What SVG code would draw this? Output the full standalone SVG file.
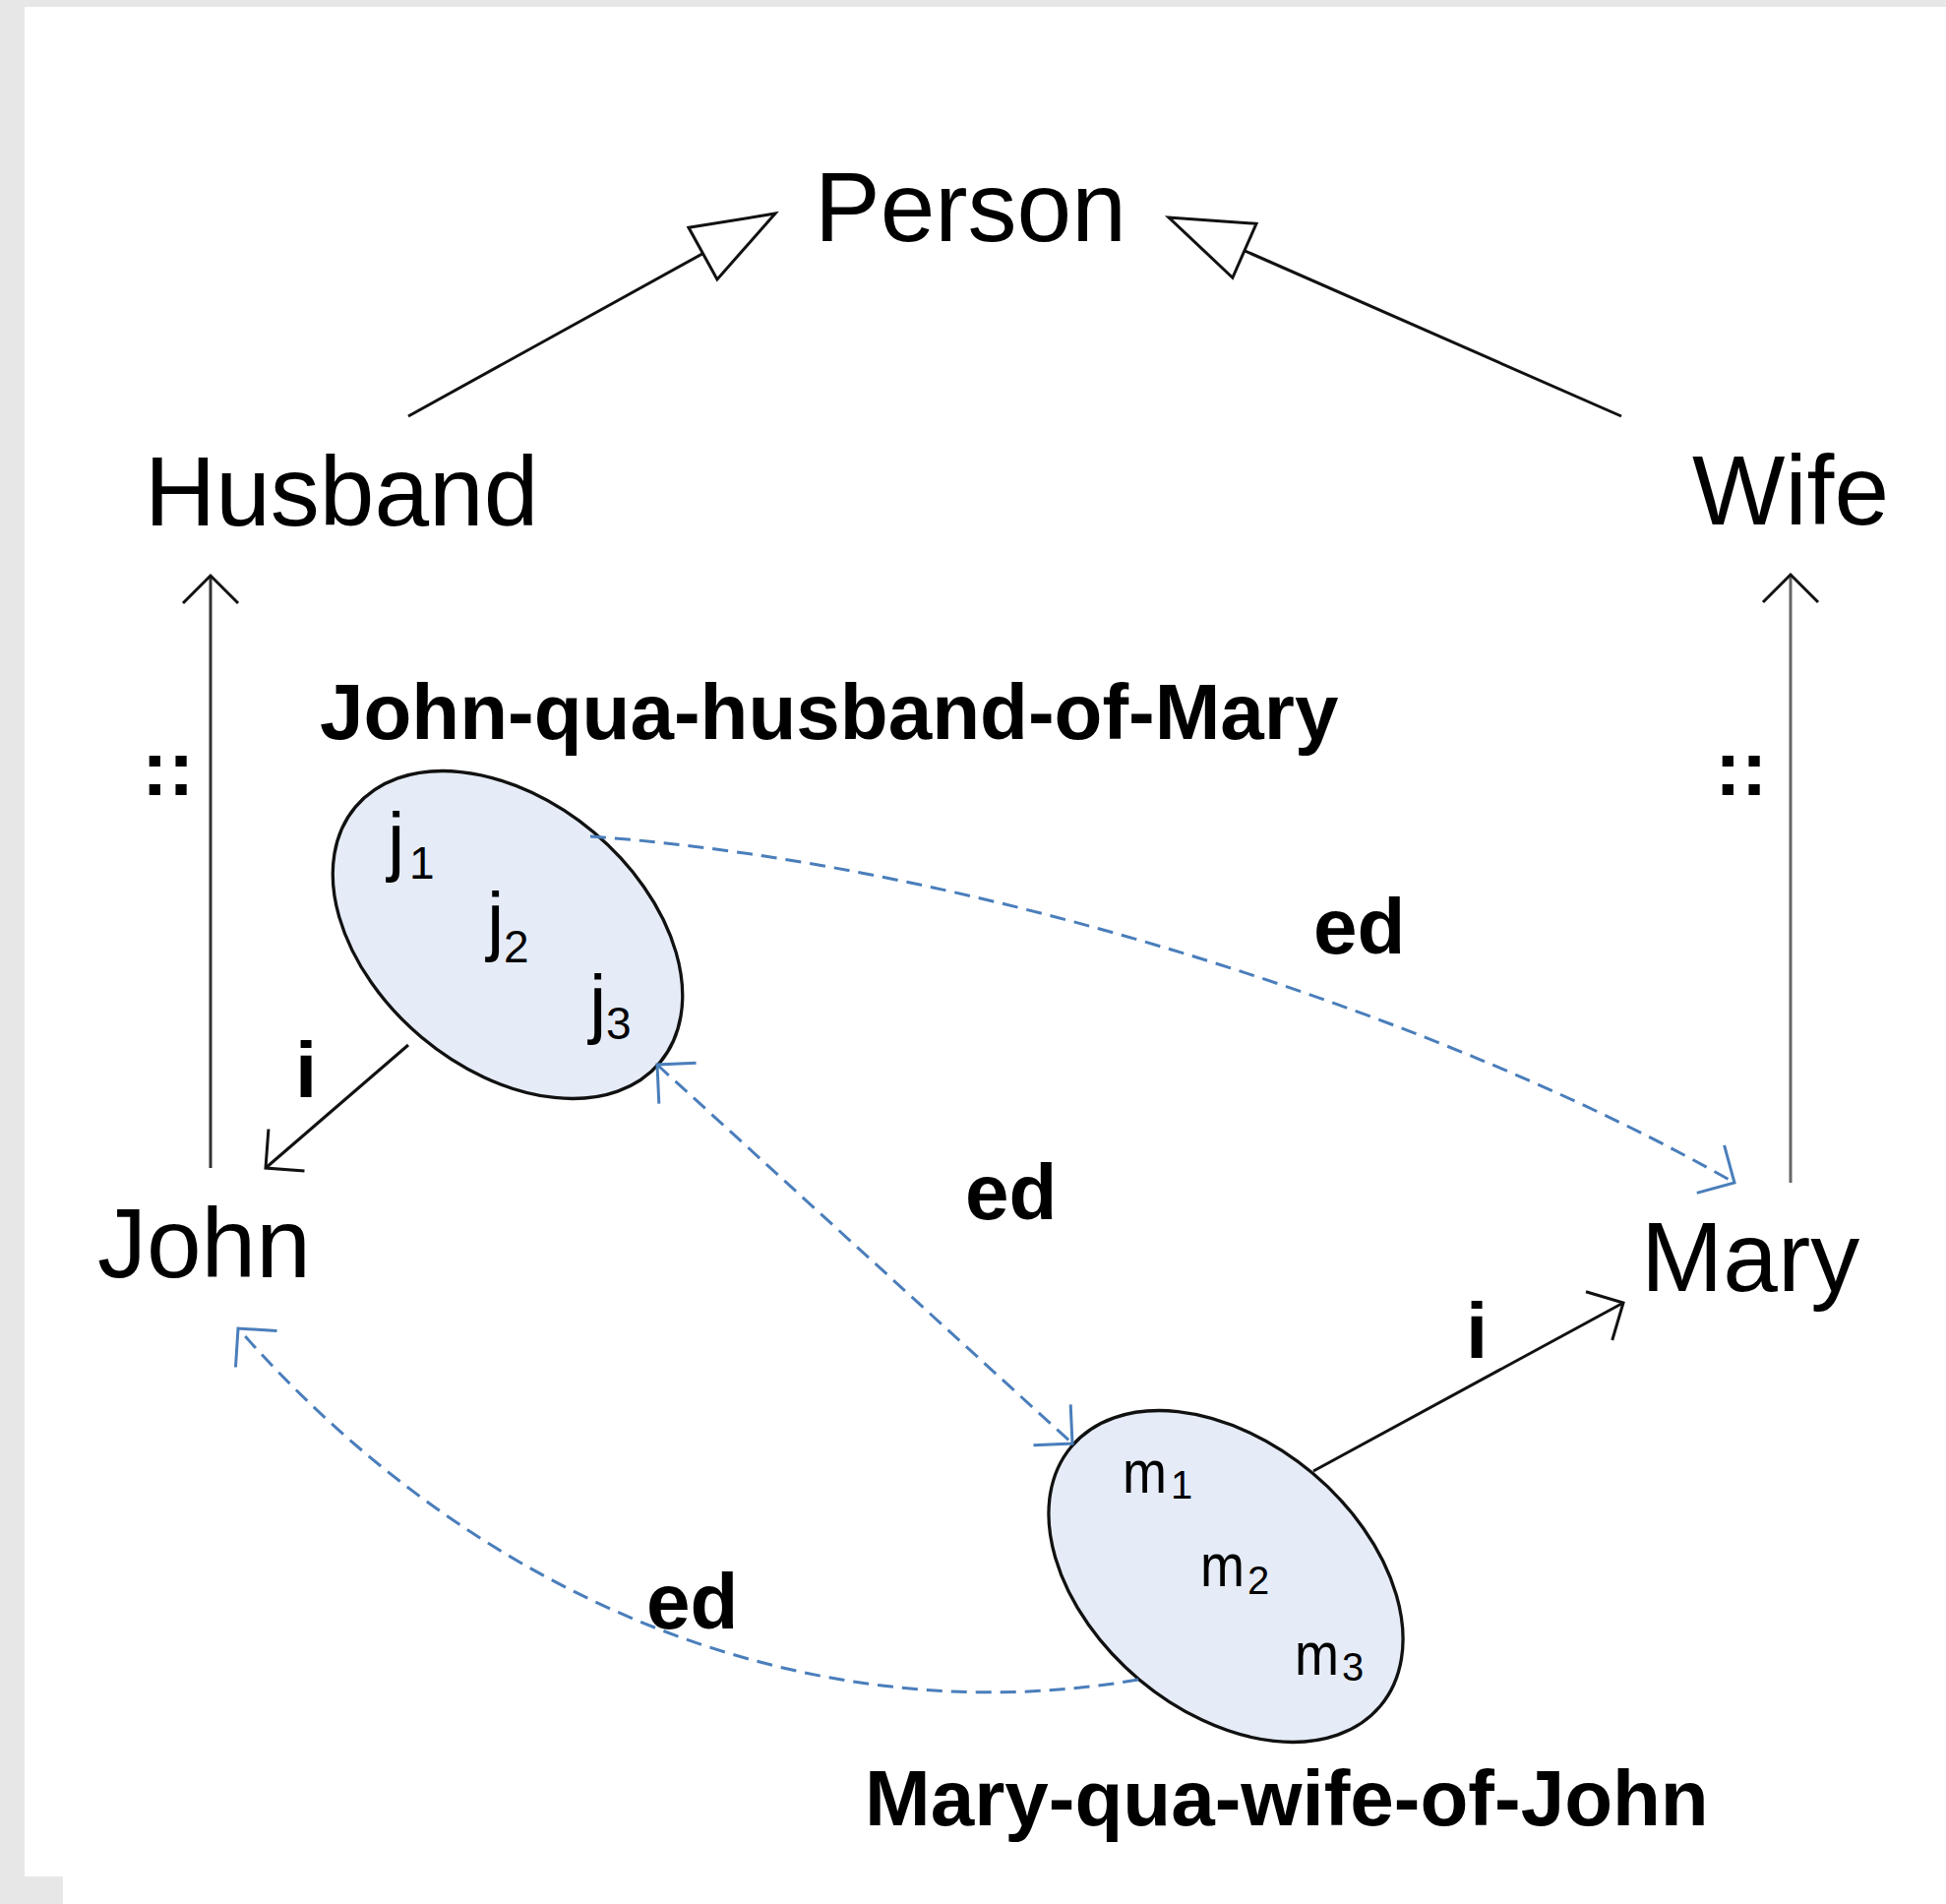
<svg xmlns="http://www.w3.org/2000/svg" width="1978" height="1935" viewBox="0 0 1978 1935">
  <style>
    .lbl { font-family: "Liberation Sans", Arial, Helvetica, sans-serif; fill: #000; }
    .big { font-size: 100px; }
    .bold { font-size: 80px; font-weight: bold; }
    .jm { font-size: 78px; }
    .mm { font-size: 62px; }
    .sub { font-size: 46px; }
    .msub { font-size: 40px; }
    .set { fill: #e5ecf7; stroke: #111; stroke-width: 3.3; }
    .solid { fill: none; stroke: #111; stroke-width: 3; }
    .dash { fill: none; stroke: #4a7ebb; stroke-width: 3; stroke-dasharray: 16 9; }
  </style>
  <defs>
    <marker id="tri" markerUnits="userSpaceOnUse" viewBox="-6 -36 96 72" markerWidth="96" markerHeight="72" refX="84" refY="0" orient="auto">
      <path d="M0,-30 L84,0 L0,30 Z" fill="#fff" stroke="#111" stroke-width="3" stroke-linejoin="miter"/>
    </marker>
    <marker id="open" markerUnits="userSpaceOnUse" viewBox="-34 -34 40 68" markerWidth="40" markerHeight="68" refX="0" refY="0" orient="auto">
      <path d="M-28,-28 L0,0 L-28,28" fill="none" stroke="#111" stroke-width="3"/>
    </marker>
    <marker id="openBlue" markerUnits="userSpaceOnUse" viewBox="-34 -34 40 68" markerWidth="40" markerHeight="68" refX="0" refY="0" orient="auto-start-reverse">
      <path d="M-28,-28 L0,0 L-28,28" fill="none" stroke="#4a7ebb" stroke-width="3"/>
    </marker>
  </defs>

  <rect x="0" y="0" width="1978" height="1935" fill="#e7e7e7"/>
  <rect x="25" y="7" width="1953" height="1928" fill="#ffffff"/>
  <rect x="0" y="1907" width="64" height="28" fill="#e7e7e7"/>

  <g id="node-person">
    <text class="lbl big" x="828" y="245">Person</text>
  </g>
  <g id="node-husband">
    <text class="lbl big" x="147" y="534">Husband</text>
  </g>
  <g id="node-wife">
    <text class="lbl big" x="1720" y="533">Wife</text>
  </g>
  <g id="node-john">
    <text class="lbl big" x="99" y="1298">John</text>
  </g>
  <g id="node-mary">
    <text class="lbl big" x="1668" y="1312">Mary</text>
  </g>

  <g id="node-john-qua-husband-of-mary">
    <ellipse class="set" cx="516" cy="950" rx="202" ry="136" transform="rotate(40 516 950)"/>
    <text class="lbl bold" x="325" y="751">John-qua-husband-of-Mary</text>
    <text class="lbl jm" x="394" y="881">j</text>
    <text class="lbl sub" x="416" y="893">1</text>
    <text class="lbl jm" x="495" y="962">j</text>
    <text class="lbl sub" x="512" y="978">2</text>
    <text class="lbl jm" x="599" y="1046">j</text>
    <text class="lbl sub" x="616" y="1056">3</text>
  </g>

  <g id="node-mary-qua-wife-of-john">
    <ellipse class="set" cx="1246" cy="1602" rx="205" ry="137" transform="rotate(40 1246 1602)"/>
    <text class="lbl bold" x="879" y="1855">Mary-qua-wife-of-John</text>
    <text class="lbl mm" x="1141" y="1517" textLength="45" lengthAdjust="spacingAndGlyphs">m</text>
    <text class="lbl msub" x="1190" y="1523">1</text>
    <text class="lbl mm" x="1220" y="1612" textLength="45" lengthAdjust="spacingAndGlyphs">m</text>
    <text class="lbl msub" x="1268" y="1620">2</text>
    <text class="lbl mm" x="1316" y="1702" textLength="45" lengthAdjust="spacingAndGlyphs">m</text>
    <text class="lbl msub" x="1364" y="1708">3</text>
  </g>

  <g id="connectors">
    <line class="solid" x1="415" y1="423" x2="788" y2="217" marker-end="url(#tri)"/>
    <line class="solid" x1="1648" y1="423" x2="1188" y2="221" marker-end="url(#tri)"/>
    <line class="solid" x1="214" y1="1187" x2="214" y2="585" style="stroke:#333" marker-end="url(#open)"/>
    <line class="solid" x1="1820" y1="1202" x2="1820" y2="584" style="stroke:#666" marker-end="url(#open)"/>
    <line class="solid" x1="415" y1="1062" x2="270" y2="1187" marker-end="url(#open)"/>
    <line class="solid" x1="1335" y1="1495" x2="1650" y2="1324" marker-end="url(#open)"/>
    <path class="dash" d="M600,850 C1000,878 1480,1040 1763,1202" marker-end="url(#openBlue)"/>
    <path class="dash" d="M668,1082 L1090,1467" marker-start="url(#openBlue)" marker-end="url(#openBlue)"/>
    <path class="dash" d="M1157,1707 C850,1760 506,1650 242,1350" marker-end="url(#openBlue)"/>

    <text class="lbl bold" x="144" y="808">::</text>
    <text class="lbl bold" x="1743" y="808">::</text>
    <text class="lbl bold" x="300" y="1115">i</text>
    <text class="lbl bold" x="1490" y="1380">i</text>
    <text class="lbl bold" x="1335" y="969">ed</text>
    <text class="lbl bold" x="981" y="1239">ed</text>
    <text class="lbl bold" x="657" y="1655">ed</text>
  </g>
</svg>
